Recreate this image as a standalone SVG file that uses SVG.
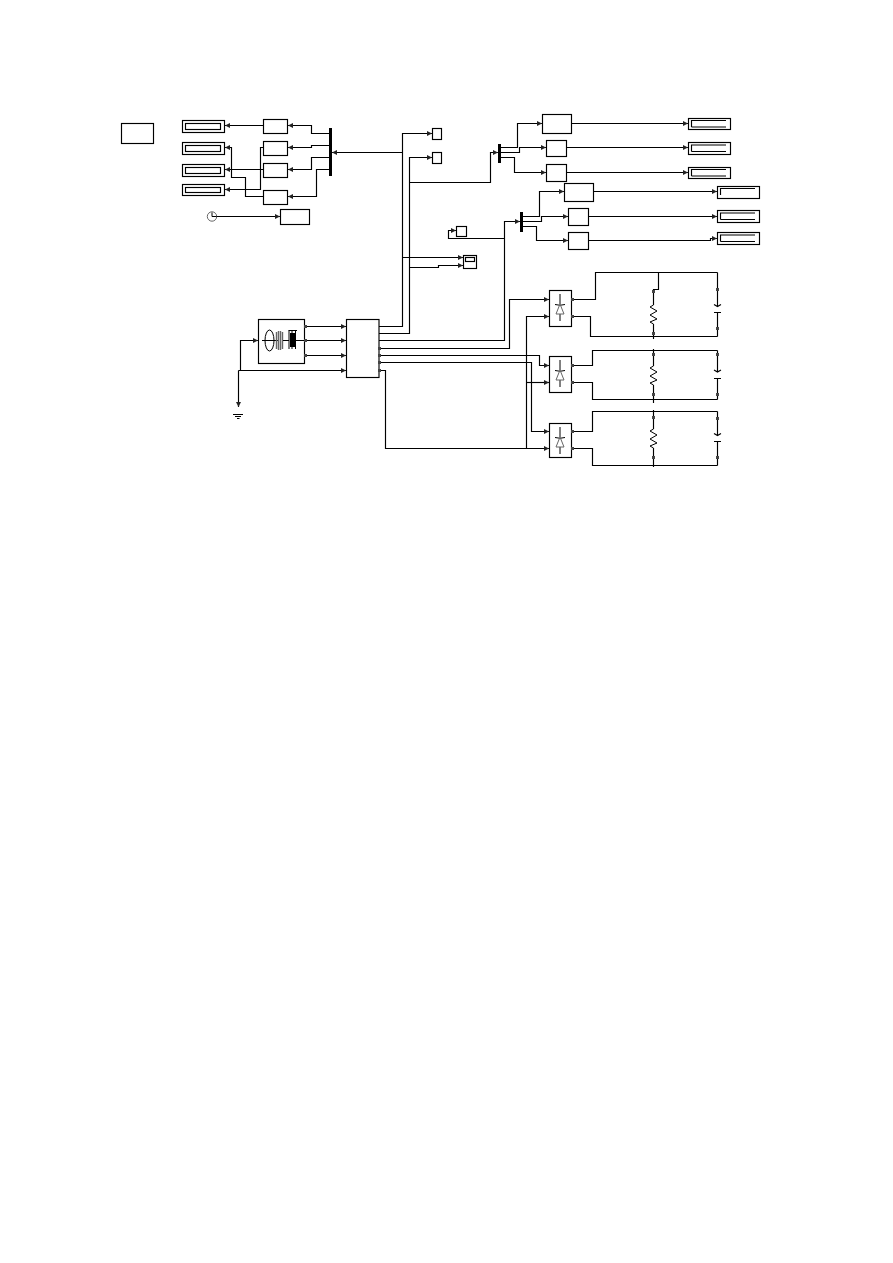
<svg xmlns="http://www.w3.org/2000/svg" width="893" height="1263" viewBox="0 0 893 1263">
<style>
rect,path,ellipse,circle{fill:none;stroke:#000;stroke-width:1.150}
.bar{fill:#000;stroke:none}
.port{fill:#444;stroke:none}
.ic{stroke-width:1}
.soft{stroke:#666;stroke-width:1}
</style>
<defs>
<marker id="a" markerUnits="userSpaceOnUse" markerWidth="7" markerHeight="7" refX="5" refY="3.500" orient="auto">
<path d="M0 1 L5 3.500 L0 6 Z" style="fill:#222;stroke:none"/>
</marker>
<g id="diode">
<path class="ic" d="M0 0V10M0 20V27M-5 10.500Q0 12 5 10.500"/>
<path class="soft" d="M0 10L-4 20H4Z"/>
</g>
<path id="zig" class="ic" d="M0 0L-3.500 2L3.500 6L-3.500 10L3.500 14L-3.500 17L0 19"/>
</defs>

<g id="powergui"><rect x="121.500" y="123.500" width="32" height="20"/></g>

<g id="display-left">
<rect x="182.500" y="120.500" width="42" height="12"/><rect x="185.500" y="123.500" width="35" height="6"/>
<rect x="182.500" y="142.500" width="42" height="12"/><rect x="185.500" y="145.500" width="35" height="6"/>
<rect x="182.500" y="164.500" width="42" height="12"/><rect x="185.500" y="167.500" width="35" height="6"/>
<rect x="182.500" y="184.500" width="42" height="11"/><rect x="185.500" y="187.500" width="35" height="5"/>
</g>
<g id="gain-left">
<rect x="263.500" y="119.500" width="24" height="14"/>
<rect x="263.500" y="141.500" width="24" height="14"/>
<rect x="263.500" y="163.500" width="24" height="14"/>
<rect x="263.500" y="190.500" width="24" height="14"/>
</g>
<g id="bus-left"><rect class="bar" x="329" y="128" width="3" height="48"/></g>
<g id="clock"><circle cx="212" cy="216.500" r="4.700" class="soft"/><path class="ic" d="M212 212.500V216.500H216.500"/></g>
<g id="clock-out"><rect x="280.500" y="209.500" width="29" height="15"/></g>

<g id="goto-a"><rect x="432.500" y="128.500" width="9" height="11"/></g>
<g id="goto-b"><rect x="432.500" y="152.500" width="9" height="11"/></g>
<g id="bus-mid"><rect class="bar" x="498" y="144" width="3" height="19"/></g>
<g id="bus-low"><rect class="bar" x="520" y="212" width="3" height="20"/></g>
<g id="from"><rect x="456.500" y="226.500" width="10" height="10"/></g>
<g id="scope"><rect x="463.500" y="255.500" width="13" height="13"/><rect x="465.500" y="257.500" width="9" height="4"/></g>

<g id="meas-upper">
<rect x="542.500" y="114.500" width="29" height="19"/>
<rect x="546.500" y="140.500" width="20" height="16"/>
<rect x="546.500" y="164.500" width="20" height="17"/>
</g>
<g id="meas-lower">
<rect x="564.500" y="183.500" width="29" height="18"/>
<rect x="568.500" y="208.500" width="20" height="17"/>
<rect x="568.500" y="232.500" width="20" height="17"/>
</g>
<g id="display-upper">
<rect x="688.500" y="118.500" width="42" height="11"/><path d="M691.500 127V120.500H726M691.500 127H726"/>
<rect x="688.500" y="142.500" width="42" height="12"/><path d="M691.500 151.500V145H726M691.500 151.500H726"/>
<rect x="688.500" y="167.500" width="42" height="11"/><path d="M691.500 176V169.500H726M691.500 176H726"/>
</g>
<g id="display-lower">
<rect x="717.500" y="186.500" width="42" height="12"/><path d="M720.500 195V188.500H755"/>
<rect x="717.500" y="210.500" width="42" height="12"/><path d="M720.500 219.500V213H755M720.500 219.500H755"/>
<rect x="717.500" y="232.500" width="42" height="12"/><path d="M720.500 241.500V235H755M720.500 241.500H755"/>
</g>

<g id="generator">
<rect x="258.500" y="319.500" width="46" height="44"/>
<ellipse class="ic" cx="269.500" cy="340.500" rx="4.500" ry="10.500"/>
<path class="ic" d="M262 340.500H278"/>
<path class="soft" style="stroke-width:1.400" d="M276.500 332V349M278.500 331V350M280.500 331V350M282.500 332V349"/>
<path class="ic" d="M283 340.500H289"/>
<rect class="bar" x="290" y="333" width="6" height="14"/>
<path class="ic" d="M288.500 330.500H297M289 330.500V349M292 330.500V349M295.500 330.500V349M296 340.500H304"/>
</g>
<g id="ground"><path d="M233 414.500H243M235 416.500H241M237 418.500H239.500"/></g>
<g id="converter"><rect x="346.500" y="319.500" width="32.500" height="58"/></g>

<g id="rectifier-1"><rect x="549.500" y="290.500" width="22" height="36"/><use href="#diode" x="560" y="294"/></g>
<g id="rectifier-2"><rect x="549.500" y="356.500" width="22" height="36"/><use href="#diode" x="560" y="360"/></g>
<g id="rectifier-3"><rect x="549.500" y="423.500" width="22" height="34"/><use href="#diode" x="560" y="427"/></g>

<g id="load-1">
<path d="M653.500 305V289.500H658.500V272.500M653.500 324V339"/>
<use href="#zig" x="653.500" y="305"/>
<path d="M717.500 272.500V306.500M714 304.500L717.500 306.500L721 304.500M714 312.500H721M717.500 312.500V336.500"/>
</g>
<g id="load-2">
<path d="M653.500 349V366M653.500 385V403"/>
<use href="#zig" x="653.500" y="366"/>
<path d="M717.500 350.500V372M714 370L717.500 372L721 370M714 378.500H721M717.500 378.500V399.500"/>
</g>
<g id="load-3">
<path d="M653.500 410V429M653.500 448V467"/>
<use href="#zig" x="653.500" y="429"/>
<path d="M717.500 411.500V435.500M714 433.500L717.500 435.500L721 433.500M714 441.500H721M717.500 441.500V465.500"/>
</g>

<g id="connectors">
<path marker-end="url(#a)" d="M402.500 152.500H332"/>
<path marker-end="url(#a)" d="M329 133.500H311.500V125.500H288"/>
<path marker-end="url(#a)" d="M329 145.500H311.500V147.500H288"/>
<path marker-end="url(#a)" d="M329 157.500H311.500V169.500H288"/>
<path marker-end="url(#a)" d="M329 169.500H316.500V196.500H288"/>
<path marker-end="url(#a)" d="M263.500 125.500H225"/>
<path marker-end="url(#a)" d="M263.500 147.500H260.500V189.500H225"/>
<path marker-end="url(#a)" d="M263.500 169.500H225"/>
<path marker-end="url(#a)" d="M263.500 196.500H245.500V177.500H231.500V147.500H225"/>
<path marker-end="url(#a)" d="M216.500 216.500H280"/>

<path marker-end="url(#a)" d="M379 326.500H402.500V133.500H432"/>
<path marker-end="url(#a)" d="M379 333.500H409.500V157.500H432"/>
<path marker-end="url(#a)" d="M409.500 182.500H490.500V152.500H498"/>
<path marker-end="url(#a)" d="M402.500 257.500H463"/>
<path marker-end="url(#a)" d="M409.500 267.500H438.500V265.500H463"/>
<path marker-end="url(#a)" d="M501 147.500H517.500V123.500H542"/>
<path marker-end="url(#a)" d="M501 152.500H519.500V147.500H546"/>
<path marker-end="url(#a)" d="M501 157.500H514.500V172.500H546"/>
<path marker-end="url(#a)" d="M379 340.500H504.500V221.500H520"/>
<path marker-end="url(#a)" d="M504.500 238.500H448.500V230.500H456"/>
<path marker-end="url(#a)" d="M523 216.500H539.500V191.500H564"/>
<path marker-end="url(#a)" d="M523 221.500H541.500V216.500H568"/>
<path marker-end="url(#a)" d="M523 226.500H536.500V240.500H568"/>

<path marker-end="url(#a)" d="M571.500 123.500H688"/>
<path marker-end="url(#a)" d="M566.500 147.500H688"/>
<path marker-end="url(#a)" d="M566.500 172.500H688"/>
<path marker-end="url(#a)" d="M593.500 191.500H717"/>
<path marker-end="url(#a)" d="M588.500 216.500H717"/>
<path marker-end="url(#a)" d="M588.500 240.500H710.500V238.500H717"/>

<path marker-end="url(#a)" d="M305 326.500H346"/>
<path marker-end="url(#a)" d="M305 340.500H346"/>
<path marker-end="url(#a)" d="M305 355.500H346"/>
<path marker-end="url(#a)" d="M238.500 370.500H346"/>
<path marker-end="url(#a)" d="M240.500 370.500V340.500H258"/>
<path marker-end="url(#a)" d="M238.500 370.500V407"/>

<path marker-end="url(#a)" d="M379 348.500H509.500V299.500H549"/>
<path marker-end="url(#a)" d="M379 355.500H539.500V365.500H549"/>
<path marker-end="url(#a)" d="M379 362.500H531.500V431.500H549"/>
<path marker-end="url(#a)" d="M379 370.500H385.500V448.500H549"/>
<path marker-end="url(#a)" d="M526.500 448.500V316.500H549"/>
<path marker-end="url(#a)" d="M526.500 382.500H549"/>

<path d="M571.500 299.500H595.500V272.500H717.500"/>
<path d="M571.500 316.500H590.500V336.500H717.500"/>
<path d="M571.500 365.500H592.500V350.500H717.500"/>
<path d="M571.500 382.500H592.500V399.500H717.500"/>
<path d="M571.500 431.500H592.500V411.500H717.500"/>
<path d="M571.500 448.500H592.500V465.500H717.500"/>
</g>

<g id="ports">
<rect class="port" x="652" y="290" width="3" height="3"/><rect class="port" x="652" y="332" width="3" height="3"/>
<rect class="port" x="716" y="288" width="3" height="3"/><rect class="port" x="716" y="327" width="3" height="3"/>
<rect class="port" x="652" y="353" width="3" height="3"/><rect class="port" x="652" y="393" width="3" height="3"/>
<rect class="port" x="716" y="353" width="3" height="3"/><rect class="port" x="716" y="393" width="3" height="3"/>
<rect class="port" x="652" y="416" width="3" height="3"/><rect class="port" x="652" y="456" width="3" height="3"/>
<rect class="port" x="716" y="417" width="3" height="3"/><rect class="port" x="716" y="456" width="3" height="3"/>
<rect class="port" x="571" y="298" width="3" height="3"/><rect class="port" x="571" y="315" width="3" height="3"/>
<rect class="port" x="571" y="364" width="3" height="3"/><rect class="port" x="571" y="381" width="3" height="3"/>
<rect class="port" x="571" y="430" width="3" height="3"/><rect class="port" x="571" y="447" width="3" height="3"/>
<rect class="port" x="304" y="325" width="3" height="3"/><rect class="port" x="304" y="339" width="3" height="3"/><rect class="port" x="304" y="354" width="3" height="3"/>
<rect class="port" x="378" y="347" width="3" height="3"/><rect class="port" x="378" y="354" width="3" height="3"/><rect class="port" x="378" y="361" width="3" height="3"/><rect class="port" x="378" y="369" width="3" height="3"/>
</g>
</svg>
